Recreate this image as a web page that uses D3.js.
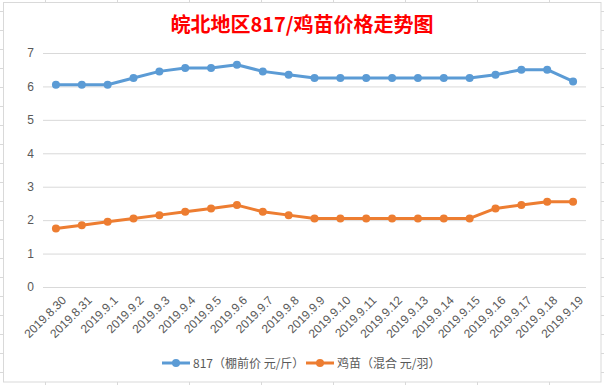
<!DOCTYPE html>
<html>
<head>
<meta charset="utf-8">
<script src="https://cdn.jsdelivr.net/npm/d3@7"></script>
<style>
  html, body { margin: 0; padding: 0; background: #fff; }
  svg { display: block; }
</style>
</head>
<body>
<script>
// chart data
var dates = ["2019.8.30", "2019.8.31", "2019.9.1", "2019.9.2", "2019.9.3", "2019.9.4", "2019.9.5",
  "2019.9.6", "2019.9.7", "2019.9.8", "2019.9.9", "2019.9.10", "2019.9.11", "2019.9.12",
  "2019.9.13", "2019.9.14", "2019.9.15", "2019.9.16", "2019.9.17", "2019.9.18", "2019.9.19"];
var price817 = [6.05, 6.05, 6.05, 6.25, 6.45, 6.55, 6.55, 6.65, 6.45, 6.35, 6.25, 6.25, 6.25, 6.25,
  6.25, 6.25, 6.25, 6.35, 6.5, 6.5, 6.15];
var priceChick = [1.75, 1.85, 1.95, 2.05, 2.15, 2.25, 2.35, 2.45, 2.25, 2.15, 2.05, 2.05, 2.05, 2.05,
  2.05, 2.05, 2.05, 2.35, 2.45, 2.55, 2.55];
var yTicks = [0, 1, 2, 3, 4, 5, 6, 7];
var seriesNames = ["817（棚前价 元/斤）", "鸡苗（混合 元/羽）"];
var seriesColors = ["#5B9BD5", "#ED7D31"];
var title = "皖北地区817/鸡苗价格走势图";

var W = 604, H = 385;
var svg = d3.select("body").append("svg").attr("width", W).attr("height", H);

// spreadsheet cells peeking around the chart box
var sheet = svg.append("g").attr("stroke", "#d9d9d9").attr("stroke-width", 1);
d3.range(45, W, 72).forEach(function (x) {
  sheet.append("line").attr("x1", x + 0.5).attr("x2", x + 0.5).attr("y1", 0).attr("y2", H);
});
d3.range(11, H, 19).forEach(function (y) {
  sheet.append("line").attr("x1", 0).attr("x2", W).attr("y1", y + 0.5).attr("y2", y + 0.5);
});

// chart box
svg.append("rect")
  .attr("x", 3.5).attr("y", 2.5)
  .attr("width", 597.5).attr("height", 379.5)
  .attr("fill", "#fff").attr("stroke", "#d9d9d9");

var m = { left: 43, right: 586, top: 53, bottom: 287 };

var x = d3.scaleBand().domain(dates).range([m.left, m.right]);
var y = d3.scaleLinear().domain([0, 7]).range([m.bottom, m.top]);

// title
svg.append("text")
  .attr("x", 302).attr("y", 32)
  .attr("text-anchor", "middle")
  .attr("fill", "#ff0000")
  .attr("font-family", "'Noto Sans CJK SC', sans-serif")
  .attr("font-weight", "bold")
  .attr("font-size", 20)
  .text(title);

// gridlines + y labels
var yAxis = svg.append("g")
  .attr("transform", "translate(" + m.left + ",0)")
  .call(d3.axisLeft(y).tickValues(yTicks).tickFormat(d3.format("d"))
    .tickSize(-(m.right - m.left)).tickPadding(9));
yAxis.select(".domain").remove();
yAxis.selectAll(".tick line").attr("stroke", "#d9d9d9");
yAxis.selectAll(".tick text")
  .attr("fill", "#595959")
  .attr("font-family", "'Liberation Sans', Arial, sans-serif")
  .attr("font-size", 12);

// x labels
var xAxis = svg.append("g")
  .attr("transform", "translate(0," + m.bottom + ")")
  .call(d3.axisBottom(x).tickSize(0));
xAxis.select(".domain").remove();
xAxis.selectAll(".tick text")
  .attr("fill", "#595959")
  .attr("font-family", "'Liberation Sans', Arial, sans-serif")
  .attr("font-size", 12)
  .attr("text-anchor", "end")
  .attr("x", 0).attr("y", 0).attr("dy", 0)
  .attr("transform", "translate(11,14) rotate(-45)");

// series
var cx = function (d, i) { return x(dates[i]) + x.bandwidth() / 2; };
var line = d3.line()
  .x(function (d, i) { return cx(d, i); })
  .y(function (d) { return y(d); });

[price817, priceChick].forEach(function (vals, k) {
  var g = svg.append("g");
  g.append("path")
    .datum(vals)
    .attr("fill", "none")
    .attr("stroke", seriesColors[k])
    .attr("stroke-width", 3)
    .attr("stroke-linejoin", "round")
    .attr("d", line);
  g.selectAll("circle")
    .data(vals)
    .enter().append("circle")
    .attr("cx", cx)
    .attr("cy", function (d) { return y(d); })
    .attr("r", 4)
    .attr("fill", seriesColors[k]);
});

// legend
var legendX = [162, 306];
seriesNames.forEach(function (name, k) {
  var lg = svg.append("g").attr("transform", "translate(" + legendX[k] + ",363)");
  lg.append("line").attr("x1", 0).attr("x2", 28).attr("y1", 0).attr("y2", 0)
    .attr("stroke", seriesColors[k]).attr("stroke-width", 3);
  lg.append("circle").attr("cx", 14).attr("cy", 0).attr("r", 4).attr("fill", seriesColors[k]);
  lg.append("text")
    .attr("x", 31).attr("y", 4.5)
    .attr("fill", "#595959")
    .attr("font-family", "'Noto Sans CJK SC', sans-serif")
    .attr("font-size", 12)
    .text(name);
});
</script>
</body>
</html>
